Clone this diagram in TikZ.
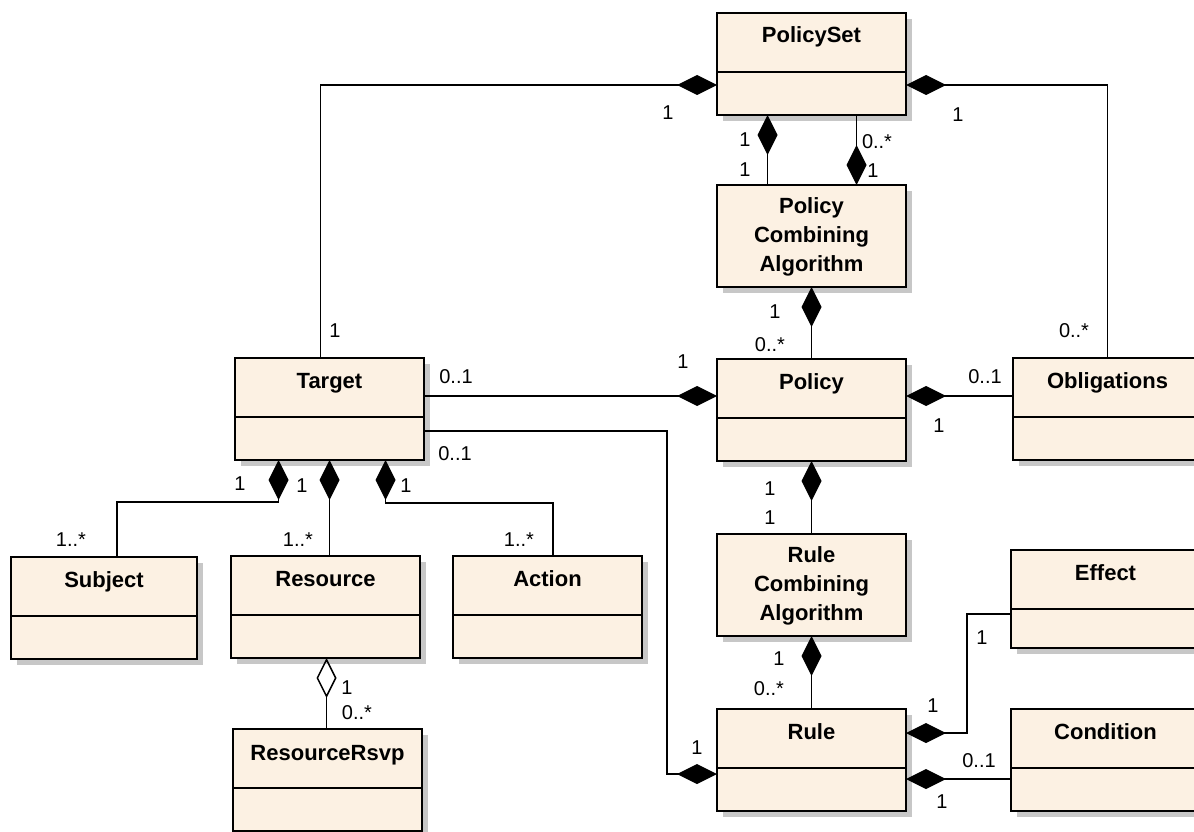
\documentclass[tikz,border=0pt]{standalone}
\usepackage{fontspec}
\setmainfont{Liberation Sans}
\usetikzlibrary{arrows.meta,shadows}
\definecolor{umlfill}{RGB}{252,241,227}
\tikzset{
  cls/.style={draw, line width=1.7pt, fill=umlfill, anchor=north west, outer sep=0pt,
    minimum width=189pt, minimum height=102pt,
    drop shadow={shadow xshift=6pt, shadow yshift=-6pt, fill=black!22, opacity=1}},
  ttl/.style={font=\fontsize{22}{29}\selectfont\bfseries, align=center, inner sep=0pt},
  mult/.style={font=\fontsize{20}{24}\selectfont, inner sep=0pt},
  comp/.style={line width=1.5pt, arrows={Diamond[length=40pt,width=20pt]-}},
  agg/.style={line width=1.5pt, arrows={Diamond[open,length=40pt,width=20pt]-}},
}
\begin{document}
\begin{tikzpicture}[x=1pt,y=-1pt]
	\path[use as bounding box] (0,0) rectangle (1194,832);
	\clip (0,0) rectangle (1194,832);
	
	\node[cls] (pset) at (717,13) {};
	\node[cls] (pca) at (717,185) {};
	\node[cls] (policy) at (717,359) {};
	\node[cls] (oblig) at (1013,358) {};
	\node[cls] (target) at (235,358) {};
	\node[cls, minimum width=186pt] (subject) at (11,557) {};
	\node[cls] (resource) at (231,556) {};
	\node[cls] (action) at (453,556) {};
	\node[cls] (rsvp) at (233,729) {};
	\node[cls] (rca) at (717,534) {};
	\node[cls] (rule) at (717,709) {};
	\node[cls, minimum height=98pt] (effect) at (1011,550) {};
	\node[cls] (cond) at (1011,709) {};
	
	\foreach \n in {pset,policy,oblig,target,subject,resource,action,rsvp,rule,effect,cond}
		\draw[line width=1.7pt] ([yshift=-59pt]\n.north west) -- ([yshift=-59pt]\n.north east);
	
	\node[ttl, anchor=base] (psetT) at ([yshift=-30pt]pset.north) {PolicySet};
	\node[ttl] (pcaT) at ([yshift=-52pt]pca.north) {Policy\\Combining\\Algorithm};
	\node[ttl, anchor=base] (policyT) at ([yshift=-30pt]policy.north) {Policy};
	\node[ttl, anchor=base] (obligT) at ([yshift=-30pt]oblig.north) {Obligations};
	\node[ttl, anchor=base] (targetT) at ([yshift=-30pt]target.north) {Target};
	\node[ttl, anchor=base] (subjectT) at ([yshift=-30pt]subject.north) {Subject};
	\node[ttl, anchor=base] (resourceT) at ([yshift=-30pt]resource.north) {Resource};
	\node[ttl, anchor=base] (actionT) at ([yshift=-30pt]action.north) {Action};
	\node[ttl, anchor=base] (rsvpT) at ([yshift=-31pt]rsvp.north) {ResourceRsvp};
	\node[ttl] (rcaT) at ([yshift=-52pt]rca.north) {Rule\\Combining\\Algorithm};
	\node[ttl, anchor=base] (ruleT) at ([yshift=-30pt]rule.north) {Rule};
	\node[ttl, anchor=base] (effectT) at ([yshift=-30pt]effect.north) {Effect};
	\node[ttl, anchor=base] (condT) at ([yshift=-30pt]cond.north) {Condition};
	
	\draw[comp] ([yshift=-21pt]pset.west) -| ([xshift=-9pt]target.north);
	\draw[comp] ([yshift=-21pt]pset.east) -| (oblig.north);
	\draw[comp] ([xshift=-44pt]pset.south) -- ([xshift=-44pt]pca.north);
	\draw[comp] ([xshift=45pt]pca.north) -- ([xshift=45pt]pset.south);
	\draw[comp] (pca.south) -- (policy.north);
	\draw[comp] ([yshift=14pt]policy.west) -- ([yshift=14pt]policy.west -| target.east);
	\draw[comp] ([yshift=14pt]policy.east) -- ([yshift=14pt]policy.east -| oblig.west);
	\coordinate (tbend) at (667,431);
	\draw[comp] ([yshift=-14pt]rule.west) -| (tbend) -- (tbend -| target.east);
	\draw[comp] (policy.south) -- (rca.north);
	\draw[comp] (rca.south) -- (rule.north);
	\coordinate (ebend) at (967,614);
	\draw[comp] ([yshift=27pt]rule.east) -| (ebend) -- (ebend -| effect.west);
	\draw[comp] ([yshift=-19pt]rule.east) -- ([yshift=-19pt]rule.east -| cond.west);
	\coordinate (sbend) at (117,502);
	\draw[comp] ([xshift=-51pt]target.south) |- (sbend) -- (sbend |- subject.north);
	\draw[comp] (target.south) -- (target.south |- resource.north);
	\coordinate (abend) at (553,503);
	\draw[comp] ([xshift=56pt]target.south) |- (abend) -- (abend |- action.north);
	\draw[agg] ([xshift=1pt]resource.south) -- ([xshift=1pt]resource.south |- rsvp.north);
	
	\foreach \x/\y/\t [count=\i] in {668/113/1, 958/115/1, 745/140/1, 745/170/1, 877/142/0..*,
		873/171/1, 775/312/1, 770/345/0..*, 335/331/1, 1074/331/0..*, 456/377/0..1, 683/362/1,
		985/377/0..1, 939/426/1, 455/454/0..1, 240/484/1, 302/486/1, 406/486/1, 71/540/1..*,
		298/540/1..*, 519/540/1..*, 347/688/1, 357/713/0..*, 770/489/1, 770/518/1, 779/659/1,
		769/689/0..*, 982/638/1, 933/706/1, 697/748/1, 979/761/0..1, 942/802/1}
		\node[mult] (m\i) at (\x,\y) {\t};
\end{tikzpicture}
\end{document}
